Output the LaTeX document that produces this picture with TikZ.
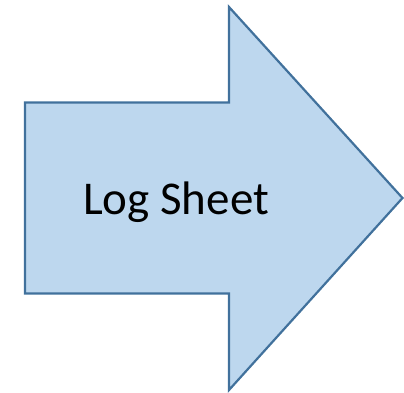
\documentclass[tikz,border=0pt]{standalone}
\usepackage{fontspec}
\setmainfont{Carlito}
\definecolor{arrowfill}{HTML}{BDD7EE}
\definecolor{arrowline}{HTML}{41719C}
\begin{document}
\begin{tikzpicture}[x=1pt,y=-1pt,
  blockarrow/.style={fill=arrowfill,draw=arrowline,line width=2.2pt,line join=miter},
  label/.style={font=\fontsize{47}{56}\selectfont,text=black,inner sep=0pt,anchor=base}]
\useasboundingbox (0,0) rectangle (404,392);
\draw[blockarrow] (25,102.5) -- (229,102.5) -- (229,7) -- (402.5,198) -- (229,390) -- (229,293.5) -- (25,293.5) -- cycle;
\node[label] (lbl) at (176,214) {Log Sheet};
\end{tikzpicture}
\end{document}
